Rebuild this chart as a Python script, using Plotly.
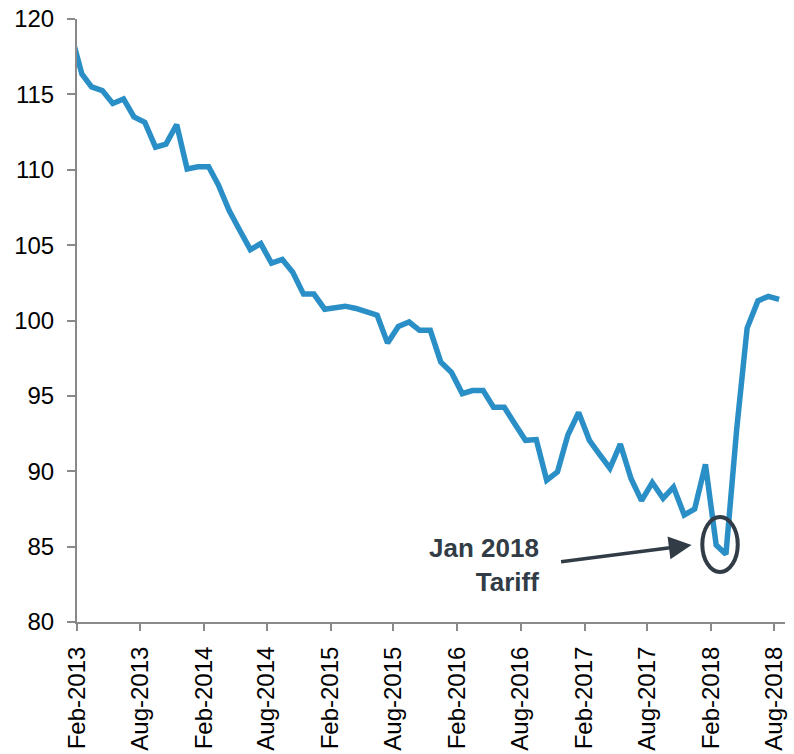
import pandas as pd
import plotly.graph_objects as go

# ---- data ----
start_month = "2013-01-01"
n_months = 68
months = pd.date_range(start=start_month, periods=n_months, freq="MS") + pd.Timedelta(days=14)

index_values = [
    119.0,
    116.35, 115.5, 115.25, 114.4, 114.7, 113.5, 113.15, 111.5, 111.7, 113.0, 110.05,
    110.2, 110.2, 109.0, 107.3, 106.0, 104.7, 105.1, 103.8, 104.05, 103.2, 101.75, 101.75,
    100.75, 100.9, 100.95, 100.8, 100.55, 100.35, 98.5, 99.6, 99.9, 99.35, 99.35, 97.25,
    96.55, 95.15, 95.35, 95.35, 94.25, 94.25, 93.15, 92.05, 92.1, 89.4, 89.95, 92.4,
    93.9, 92.05, 91.15, 90.2, 91.8, 89.5, 88.05, 89.25, 88.2, 88.95, 87.1, 87.5,
    90.45, 85.1, 84.5, 92.8, 99.5, 101.3, 101.6, 101.4,
]

tick_dates = ["2013-02-01", "2013-08-01", "2014-02-01", "2014-08-01", "2015-02-01",
              "2015-08-01", "2016-02-01", "2016-08-01", "2017-02-01", "2017-08-01",
              "2018-02-01", "2018-08-01"]
tick_labels = ["Feb-2013", "Aug-2013", "Feb-2014", "Aug-2014", "Feb-2015", "Aug-2015",
               "Feb-2016", "Aug-2016", "Feb-2017", "Aug-2017", "Feb-2018", "Aug-2018"]

y_ticks = [80, 85, 90, 95, 100, 105, 110, 115, 120]

annotation_text = "Jan 2018<br>Tariff"

# ---- styles ----
LINE_COLOR = "#2a8fc6"
AXIS_COLOR = "#898989"
ANNOT_COLOR = "#323c46"
FONT = "Liberation Sans, Arial, sans-serif"

fig = go.Figure()
fig.add_trace(go.Scatter(
    x=months, y=index_values, mode="lines",
    line=dict(color=LINE_COLOR, width=5.5),
    hoverinfo="skip", showlegend=False,
))

fig.update_layout(
    width=794, height=754,
    margin=dict(l=77, r=9, t=19, b=132),
    paper_bgcolor="white", plot_bgcolor="white",
    font=dict(family=FONT, color="#000000"),
    showlegend=False,
)

fig.update_xaxes(
    type="date", range=["2013-02-01", "2018-09-01"],
    tickmode="array", tickvals=tick_dates, ticktext=tick_labels,
    tickangle=-90, tickfont=dict(size=24, family=FONT, color="#000000"),
    showline=True, linecolor=AXIS_COLOR, linewidth=2,
    ticks="outside", ticklen=7, tickwidth=2, tickcolor=AXIS_COLOR,
    showgrid=False, zeroline=False, ticklabelstandoff=6, automargin=False,
)
fig.update_yaxes(
    range=[80, 120], tickmode="array", tickvals=y_ticks,
    tickfont=dict(size=24, family=FONT, color="#000000"),
    showline=True, linecolor=AXIS_COLOR, linewidth=2,
    ticks="outside", ticklen=8, tickwidth=2, tickcolor=AXIS_COLOR,
    showgrid=False, zeroline=False, ticklabelstandoff=8, automargin=False,
)

# ellipse around the dip
fig.add_shape(
    type="circle", xref="x", yref="y",
    x0="2018-01-06", x1="2018-04-18", y0=83.32, y1=86.97,
    line=dict(color=ANNOT_COLOR, width=4), fillcolor="rgba(0,0,0,0)",
)

# arrow
fig.add_annotation(
    x="2017-12-06", y=85.11, xref="x", yref="y",
    ax=-132, ay=17, axref="pixel", ayref="pixel",
    text="", showarrow=True, arrowhead=2, arrowsize=1.3, arrowwidth=3.5,
    arrowcolor=ANNOT_COLOR,
)

# label
fig.add_annotation(
    x=0.655, y=0.095, xref="paper", yref="paper",
    text="<b>" + annotation_text.replace("<br>", "</b><br><b>") + "</b>",
    showarrow=False, xanchor="right", yanchor="middle", align="right",
    font=dict(size=26, family=FONT, color=ANNOT_COLOR),
)

fig.write_html("out.html")
